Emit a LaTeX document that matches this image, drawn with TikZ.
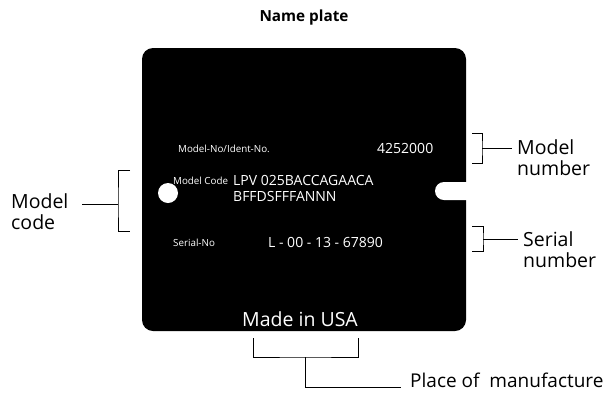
\documentclass[tikz,border=0pt]{standalone}
\usepackage{fontspec}
\setmainfont{Open Sans}
\usepackage{tikz}

\begin{document}
\begin{tikzpicture}[
    x=1pt, y=-1pt,
    label/.style={
        anchor=west,
        inner sep=0pt,
        align=left,
        font=\fontsize{19.5}{21}\selectfont
    },
    small/.style={
        anchor=west,
        inner sep=0pt,
        text=white,
        font=\fontsize{9.8}{11}\selectfont
    },
    value/.style={
        anchor=west,
        inner sep=0pt,
        text=white,
        align=left,
        font=\fontsize{14}{16}\selectfont
    },
    bracket/.style={
        line width=0.8pt
    }
]
\useasboundingbox (0,0) rectangle (616,392);

% plate
\fill[black, rounded corners=11pt] (142,48) rectangle (466,331);
\fill[white, rounded corners=9pt] (435,182) rectangle (480,200);
\fill[white] (466,182) rectangle (470,200);
\node[circle, fill=white, minimum size=20pt, inner sep=0pt] (hole) at (168,193) {};

\node[font=\bfseries\fontsize{15.3}{17}\selectfont] (title) at (304,18) {Name plate};

% plate texts
\node[small] (identtag) at (178,149) {Model-No/Ident-No.};
\node[value] (ident) at (377,148) {4252000};
\node[small] (codetag) at (173,181) {Model Code};
\node[value] (code) at (233,188) {LPV 025BACCAGAACA\\BFFDSFFFANNN};
\node[small] (serialtag) at (173,243) {Serial-No};
\node[value] (serial) at (268,242) {L - 00 - 13 - 67890};
\node[text=white, font=\fontsize{19.5}{21}\selectfont] (origin) at (300,319) {Made in USA};

% labels
\node[label] (numlabel) at (517,158) {Model\\number};
\node[label] (seriallabel) at (523,250) {Serial\\number};
\node[label] (codelabel) at (11,212) {Model\\code};
\node[label, font=\fontsize{19}{21}\selectfont] (placelabel) at (410,380) {Place of\ \ manufacture};

% model number bracket
\coordinate (numtop) at (472,133);
\coordinate (numbot) at (472,163);
\coordinate (nummid) at (482,148);
\draw[bracket] (numtop) -| (nummid) |- (numbot);
\draw[bracket] (nummid) -- (512,148);

% serial number bracket
\coordinate (sertop) at (472,226);
\coordinate (serbot) at (472,251);
\coordinate (sermid) at (483,239);
\draw[bracket] (sertop) -| (sermid) |- (serbot);
\draw[bracket] (sermid) -- (518,239);

% model code bracket
\coordinate (codetop) at (130,170);
\coordinate (codebot) at (130,231);
\coordinate (codemid) at (118,204);
\draw[bracket] (codetop) -| (codemid) |- (codebot);
\draw[bracket] (codemid) -- (82,204);

% place bracket
\coordinate (placeleft) at (253,338);
\coordinate (placeright) at (358,338);
\coordinate (placemid) at (305,357);
\draw[bracket] (placeleft) |- (placemid) -| (placeright);
\draw[bracket] (placemid) |- (401,387);

\end{tikzpicture}
\end{document}
